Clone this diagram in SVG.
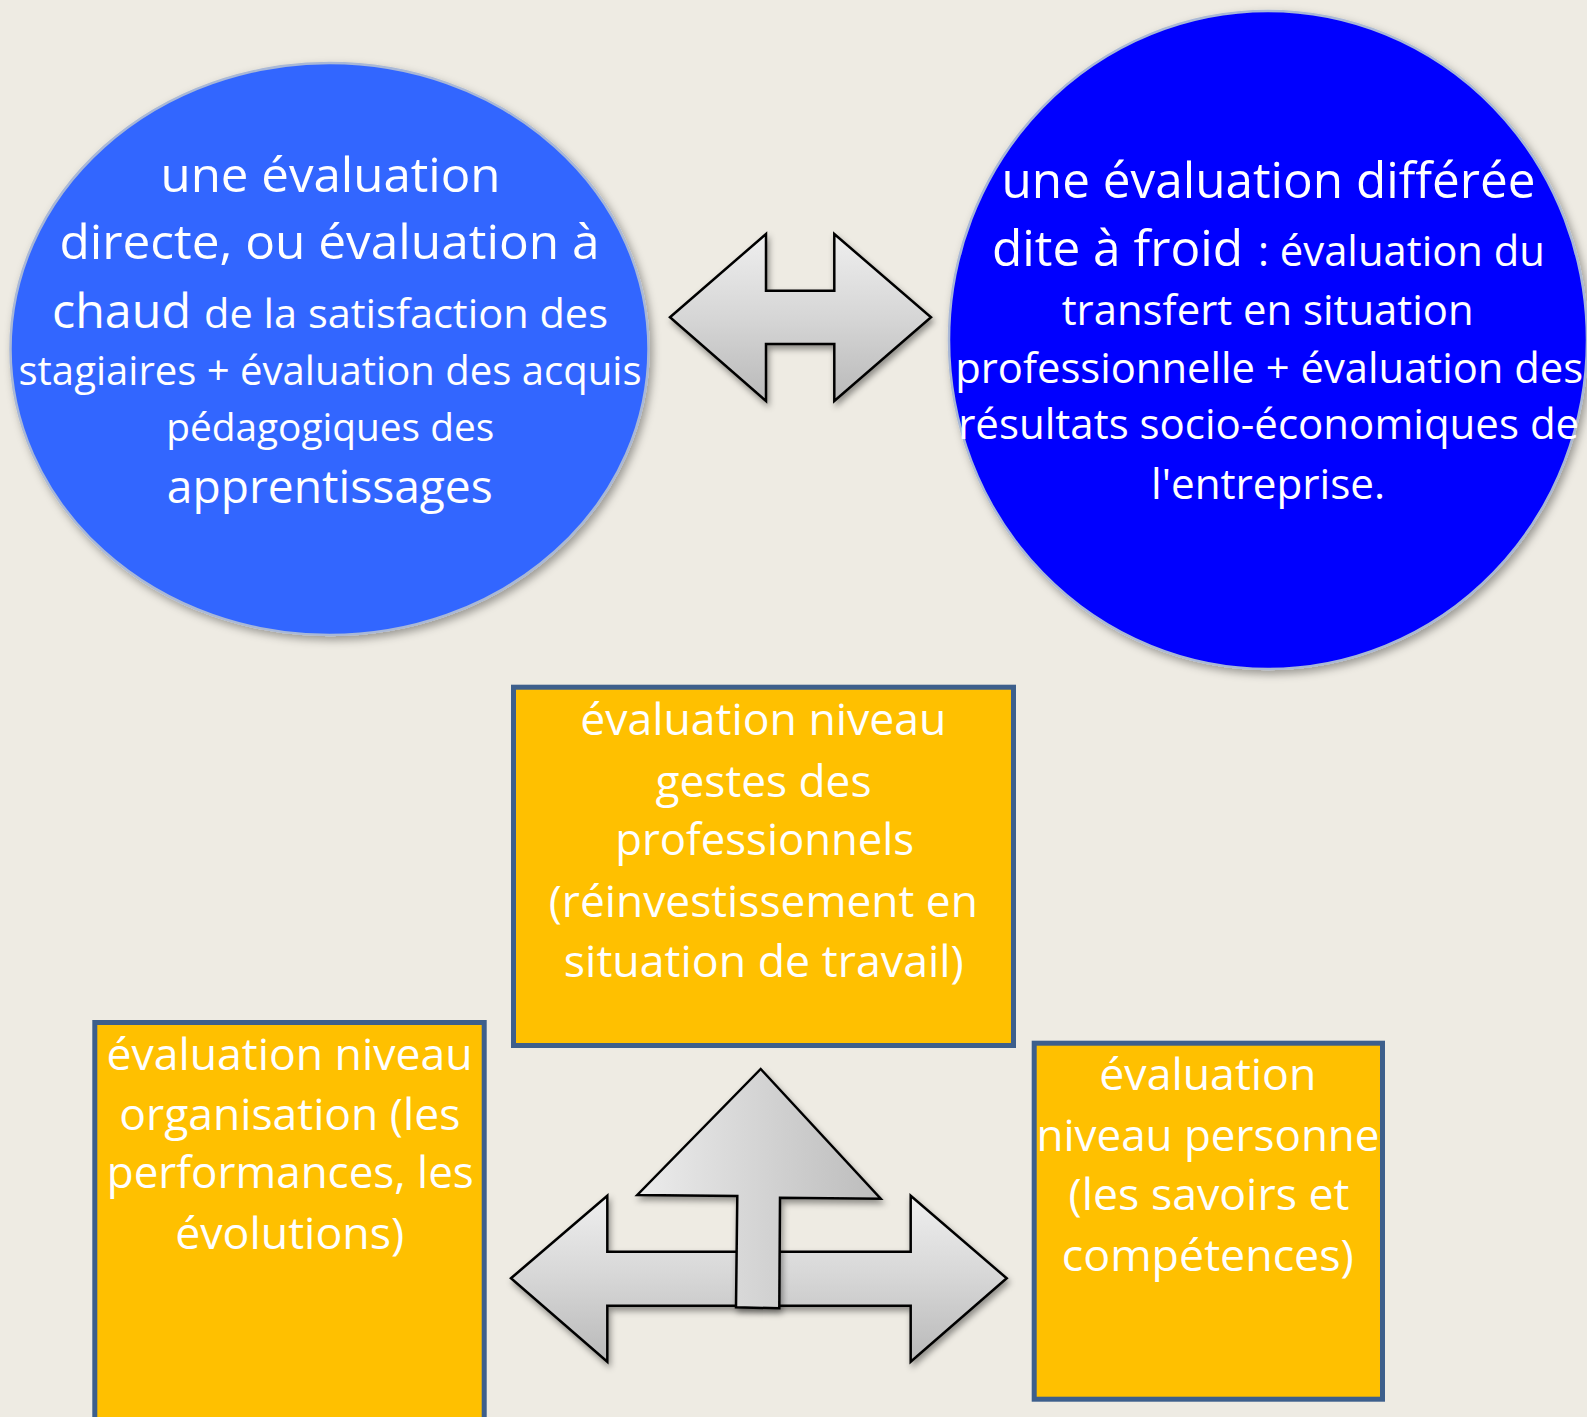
<svg xmlns="http://www.w3.org/2000/svg" width="1587" height="1417" viewBox="0 0 1587 1417">
  <defs>
    <filter id="softShadow" x="-10%" y="-10%" width="125%" height="125%">
      <feDropShadow dx="3" dy="4" stdDeviation="4" flood-color="#000" flood-opacity="0.35"/>
    </filter>
    <filter id="arrowShadow" x="-10%" y="-10%" width="125%" height="125%">
      <feDropShadow dx="2" dy="4" stdDeviation="3" flood-color="#000" flood-opacity="0.4"/>
    </filter>
    <linearGradient id="greyV" x1="0" y1="0" x2="0" y2="1">
      <stop offset="0" stop-color="#efefef"/>
      <stop offset="0.5" stop-color="#d6d6d6"/>
      <stop offset="1" stop-color="#b9b9b9"/>
    </linearGradient>
    <linearGradient id="greyH" x1="0" y1="0" x2="1" y2="0">
      <stop offset="0" stop-color="#ececec"/>
      <stop offset="0.5" stop-color="#d4d4d4"/>
      <stop offset="1" stop-color="#bcbcbc"/>
    </linearGradient>
  </defs>
  <style>
    .bg { fill: #eeebe3; }
    .t { font-family: "Open Sans", "Noto Sans", "Liberation Sans", sans-serif; fill: #ffffff; }
    .mid { text-anchor: middle; }
    .box { fill: #ffc000; stroke: #3d5f8c; stroke-width: 5; }
    .bubble { stroke: #a9b8d6; stroke-width: 2.5; }
    .arrow { stroke: #000; stroke-width: 2.5; stroke-linejoin: miter; }
  </style>

  <rect class="bg" x="0" y="0" width="1587" height="1417"/>

  <!-- hot evaluation -->
  <g id="eval-chaud">
    <ellipse class="bubble" cx="329.5" cy="349" rx="319" ry="286" fill="#3366ff" filter="url(#softShadow)"/>
    <text class="t mid" x="330.5" y="192" font-size="48" textLength="340" lengthAdjust="spacingAndGlyphs">une évaluation</text>
    <text class="t mid" x="329.5" y="259" font-size="48" textLength="540" lengthAdjust="spacingAndGlyphs">directe, ou évaluation à</text>
    <text class="t" x="52" y="328" font-size="47" textLength="139" lengthAdjust="spacingAndGlyphs">chaud</text>
    <text class="t" x="204" y="328" font-size="41" textLength="404" lengthAdjust="spacingAndGlyphs">de la satisfaction des</text>
    <text class="t mid" x="330" y="385" font-size="40" textLength="623" lengthAdjust="spacingAndGlyphs">stagiaires + évaluation des acquis</text>
    <text class="t mid" x="330.2" y="440.5" font-size="39" textLength="328" lengthAdjust="spacingAndGlyphs">pédagogiques des</text>
    <text class="t mid" x="329.8" y="502.5" font-size="46" textLength="326" lengthAdjust="spacingAndGlyphs">apprentissages</text>
  </g>

  <!-- cold (deferred) evaluation -->
  <g id="eval-froid">
    <ellipse class="bubble" cx="1268" cy="340" rx="319" ry="329" fill="#0000ff" filter="url(#softShadow)"/>
    <text class="t mid" x="1268.5" y="197.5" font-size="49" textLength="534" lengthAdjust="spacingAndGlyphs">une évaluation différée</text>
    <text class="t" x="992" y="265.5" font-size="49" textLength="251" lengthAdjust="spacingAndGlyphs">dite à froid</text>
    <text class="t" x="1258" y="265.5" font-size="42.5" textLength="287" lengthAdjust="spacingAndGlyphs">: évaluation du</text>
    <text class="t mid" x="1267.7" y="325" font-size="42" textLength="412" lengthAdjust="spacingAndGlyphs">transfert en situation</text>
    <text class="t mid" x="1269.2" y="382.5" font-size="42" textLength="628" lengthAdjust="spacingAndGlyphs">professionnelle + évaluation des</text>
    <text class="t mid" x="1268.7" y="439" font-size="42" textLength="621" lengthAdjust="spacingAndGlyphs">résultats socio-économiques de</text>
    <text class="t mid" x="1268.1" y="498.7" font-size="42" textLength="234" lengthAdjust="spacingAndGlyphs">l'entreprise.</text>
  </g>

  <!-- professional gestures level -->
  <g id="niveau-gestes">
    <rect class="box" x="513.5" y="687.2" width="500" height="358.3"/>
    <text class="t mid" x="763.3" y="735" font-size="44" textLength="366" lengthAdjust="spacingAndGlyphs">évaluation niveau</text>
    <text class="t mid" x="763.5" y="796.7" font-size="44" textLength="216" lengthAdjust="spacingAndGlyphs">gestes des</text>
    <text class="t mid" x="764.7" y="855" font-size="44" textLength="299" lengthAdjust="spacingAndGlyphs">professionnels</text>
    <text class="t mid" x="763.3" y="916.7" font-size="44" textLength="429" lengthAdjust="spacingAndGlyphs">(réinvestissement en</text>
    <text class="t mid" x="763.8" y="976.7" font-size="44" textLength="400" lengthAdjust="spacingAndGlyphs">situation de travail)</text>
  </g>

  <!-- organisation level -->
  <g id="niveau-organisation">
    <rect class="box" x="94.8" y="1022.5" width="389.4" height="420"/>
    <text class="t mid" x="289.5" y="1070" font-size="44" textLength="366" lengthAdjust="spacingAndGlyphs">évaluation niveau</text>
    <text class="t mid" x="289.8" y="1130" font-size="44" textLength="341" lengthAdjust="spacingAndGlyphs">organisation (les</text>
    <text class="t mid" x="290.3" y="1188" font-size="44" textLength="367" lengthAdjust="spacingAndGlyphs">performances, les</text>
    <text class="t mid" x="289.7" y="1249" font-size="44" textLength="229" lengthAdjust="spacingAndGlyphs">évolutions)</text>
  </g>

  <!-- person level -->
  <g id="niveau-personne">
    <rect class="box" x="1034.2" y="1043.2" width="348.3" height="356"/>
    <text class="t mid" x="1207.8" y="1090" font-size="44" textLength="217" lengthAdjust="spacingAndGlyphs">évaluation</text>
    <text class="t mid" x="1208" y="1150.7" font-size="44" textLength="343" lengthAdjust="spacingAndGlyphs">niveau personne</text>
    <text class="t mid" x="1209" y="1210" font-size="44" textLength="281" lengthAdjust="spacingAndGlyphs">(les savoirs et</text>
    <text class="t mid" x="1207.8" y="1270.7" font-size="44" textLength="292" lengthAdjust="spacingAndGlyphs">compétences)</text>
  </g>

  <!-- block arrows linking the items -->
  <g id="connectors">
    <path class="arrow" fill="url(#greyV)" filter="url(#arrowShadow)"
          d="M670,317.3 L766,234 L766,290.7 L834.3,290.7 L834.3,234 L931,317.3 L834.3,401 L834.3,344 L766,344 L766,401 Z"/>
    <path class="arrow" fill="url(#greyV)" filter="url(#arrowShadow)"
          d="M511,1278.3 L607.3,1195.7 L607.3,1251.7 L910.7,1251.7 L910.7,1195.7 L1006.7,1278.3 L910.7,1361.7 L910.7,1305.7 L607.3,1305.7 L607.3,1361.7 Z"/>
    <path class="arrow" fill="url(#greyH)" filter="url(#arrowShadow)"
          d="M760.7,1069 L880.7,1198.7 L780,1197.7 L779.3,1308.3 L736,1307.3 L737.3,1196 L637.3,1195 Z"/>
  </g>
</svg>
